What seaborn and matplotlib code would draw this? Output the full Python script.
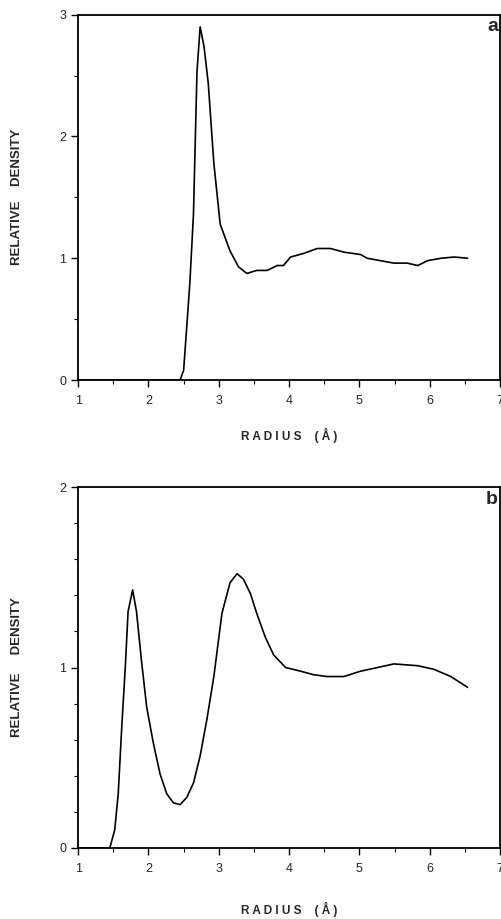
import matplotlib
matplotlib.use("Agg")
import matplotlib.pyplot as plt
import seaborn as sns
import pandas as pd
from matplotlib.ticker import MultipleLocator

sns.set_style("ticks")
plt.rcParams["font.family"] = ["Liberation Sans", "DejaVu Sans"]

# --- Panel a ---
radius_a = [1.0, 2.0, 2.45, 2.50, 2.545, 2.59, 2.64, 2.69, 2.735, 2.79, 2.85, 2.93,
            3.02, 3.16, 3.28, 3.40, 3.54, 3.69, 3.83, 3.92, 4.02, 4.21, 4.40,
            4.59, 4.78, 5.02, 5.11, 5.30, 5.49, 5.68, 5.83, 5.97, 6.16, 6.35, 6.54]
density_a = [0.0, 0.0, 0.0, 0.08, 0.44, 0.81, 1.36, 2.53, 2.90, 2.74, 2.44, 1.78,
             1.28, 1.06, 0.93, 0.875, 0.90, 0.90, 0.94, 0.94, 1.01, 1.04, 1.08,
             1.08, 1.05, 1.03, 1.00, 0.98, 0.96, 0.96, 0.94, 0.98, 1.00, 1.01, 1.00]

# --- Panel b ---
radius_b = [1.0, 1.45, 1.52, 1.57, 1.62, 1.67, 1.71, 1.775, 1.83, 1.90, 1.975, 2.07,
            2.165, 2.26, 2.355, 2.45, 2.545, 2.64, 2.735, 2.83, 2.93, 3.045, 3.16,
            3.26, 3.35, 3.45, 3.54, 3.66, 3.78, 3.95, 4.16, 4.35, 4.54, 4.78, 5.02,
            5.26, 5.49, 5.83, 6.06, 6.30, 6.54]
density_b = [0.0, 0.0, 0.10, 0.30, 0.67, 1.00, 1.31, 1.43, 1.31, 1.04, 0.78, 0.58,
             0.41, 0.30, 0.25, 0.24, 0.28, 0.36, 0.51, 0.71, 0.95, 1.30, 1.47,
             1.52, 1.49, 1.41, 1.30, 1.17, 1.07, 1.00, 0.98, 0.96, 0.95, 0.95, 0.98,
             1.00, 1.02, 1.01, 0.99, 0.95, 0.89]

df_a = pd.DataFrame({"radius": radius_a, "density": density_a})
df_b = pd.DataFrame({"radius": radius_b, "density": density_b})

fig = plt.figure(figsize=(5.01, 9.19), dpi=100)
ax_a = fig.add_axes([0.156, 0.5865, 0.842, 0.3975])
ax_b = fig.add_axes([0.156, 0.0773, 0.842, 0.3927])

# axis, data, ymax, y minor step, y label, panel tag, x label pad
panels = [
    (ax_a, df_a, 3, 0.5, "RELATIVE    DENSITY", "a", 15),
    (ax_b, df_b, 2, 0.2, "RELATIVE     DENSITY", "b", 19),
]

for ax, df, ymax, ymin, ylab, tag, xpad in panels:
    sns.lineplot(data=df, x="radius", y="density", ax=ax, color="black",
                 linewidth=1.2, sort=False)
    ax.set_xlim(1, 7)
    ax.set_ylim(0, ymax)
    ax.xaxis.set_major_locator(MultipleLocator(1))
    ax.xaxis.set_minor_locator(MultipleLocator(0.5))
    ax.yaxis.set_major_locator(MultipleLocator(1))
    ax.yaxis.set_minor_locator(MultipleLocator(ymin))
    ax.tick_params(which="major", direction="out", length=5, width=1,
                   labelsize=9, color="black")
    ax.tick_params(axis="x", which="major", pad=6)
    ax.tick_params(which="minor", direction="out", length=3, width=0.8,
                   color="black")
    for side in ["top", "right", "left", "bottom"]:
        ax.spines[side].set_visible(True)
        ax.spines[side].set_linewidth(1.3)
        ax.spines[side].set_color("black")
    ax.set_xlabel("R A D I U S    ( Å )", fontsize=8.5, fontweight="bold",
                  labelpad=xpad)
    ax.set_ylabel(ylab, fontsize=9.5, fontweight="bold", labelpad=26)
    ax.text(0.995, 0.99, tag, transform=ax.transAxes, ha="right", va="top",
            fontsize=14, fontweight="bold")

plt.savefig("out.png", dpi=100)
